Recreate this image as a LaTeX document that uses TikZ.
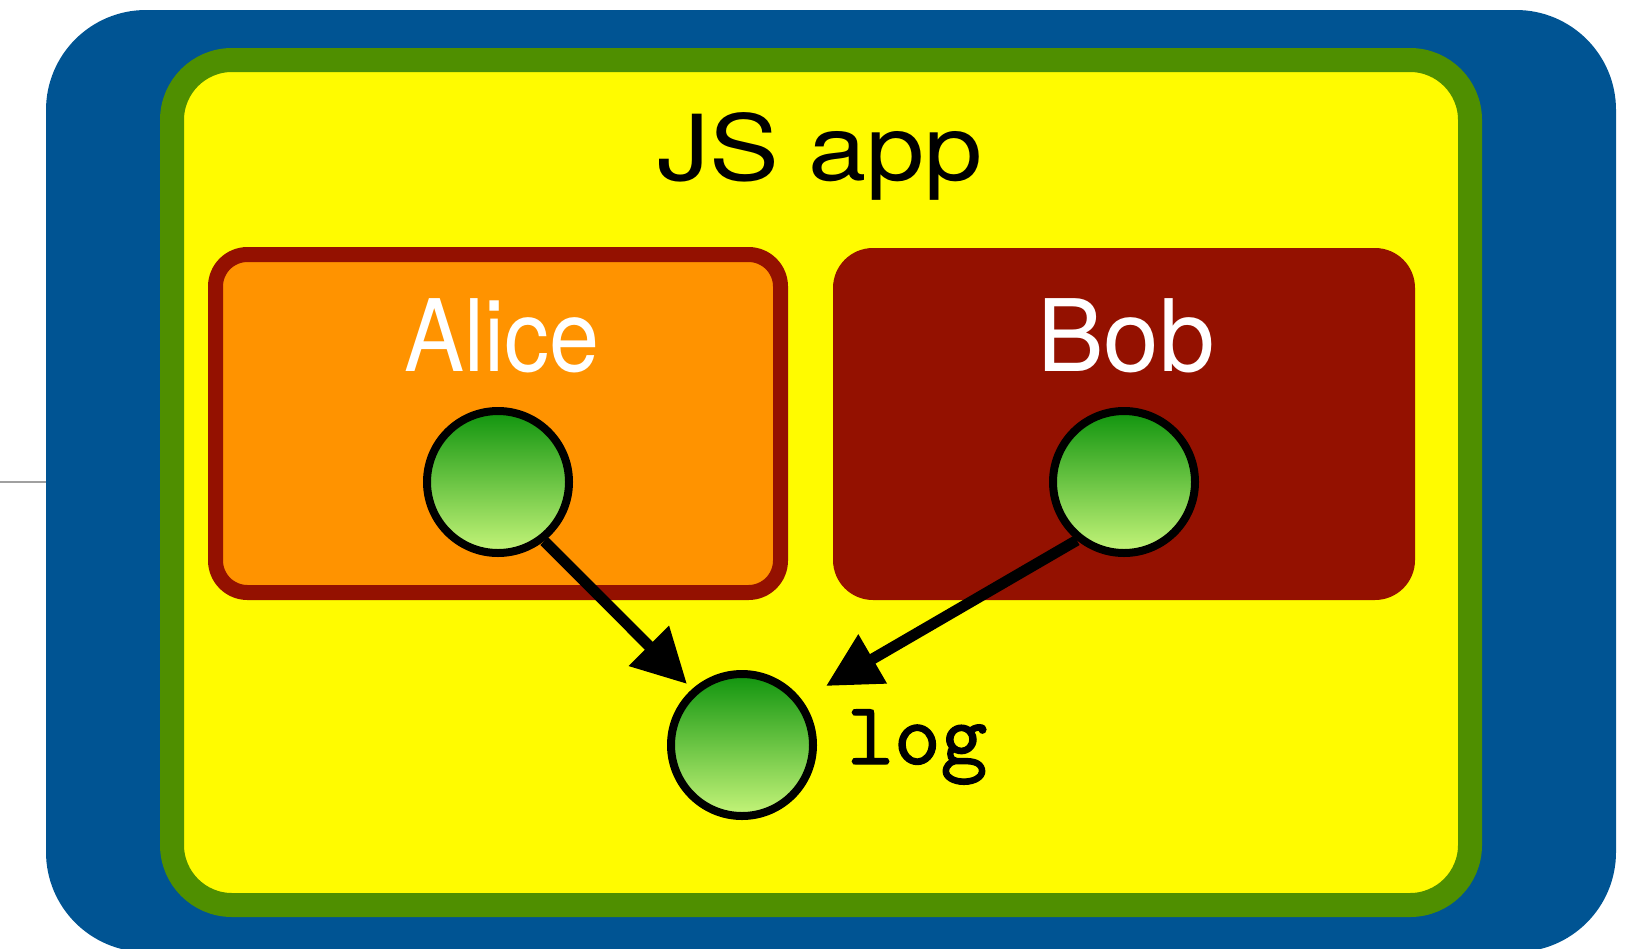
\documentclass[tikz,border=0pt]{standalone}
\usepackage{fontspec}
\setmainfont{TeX Gyre Heros}
\newfontfamily\logfont[FakeBold=1.5]{lmmono10-regular.otf}
\usetikzlibrary{arrows.meta}
\definecolor{ocean}{HTML}{005493}
\definecolor{fern}{HTML}{4F8F00}
\definecolor{lemon}{HTML}{FFFB00}
\definecolor{tangerine}{HTML}{FF9300}
\definecolor{cayenne}{HTML}{941100}
\definecolor{balltop}{RGB}{16,148,14}
\definecolor{ballbot}{RGB}{198,245,122}
\tikzset{
  ball/.style={circle, draw=black, line width=8pt, minimum size=142pt, inner sep=0pt,
    top color=balltop, bottom color=ballbot},
  callarrow/.style={line width=11pt, -{Triangle[length=54pt,width=54pt]}},
  bigtext/.style={inner sep=0pt, anchor=base, font=\fontsize{100}{120}\selectfont}
}
\begin{document}
\begin{tikzpicture}[x=1pt,y=-1pt]
\useasboundingbox (0,0) rectangle (1643,948);
\clip (0,0) rectangle (1643,948);
% grey line at left
\draw[line width=2.5pt, color={rgb,255:red,160;green,160;blue,160}] (0,482) -- (46,482);
% outer blue box
\fill[ocean, rounded corners=100pt] (46,10) rectangle (1616,952);
% green/yellow JS app box
\draw[fern, fill=lemon, line width=24pt, rounded corners=60pt] (172,60) rectangle (1470,905);
\node[inner sep=0pt, anchor=base, font=\fontsize{91}{110}\selectfont] (jsapp) at (820,180) {\scalebox{1.15}[1]{JS app}};
% Alice box
\draw[cayenne, fill=tangerine, line width=15pt, rounded corners=32pt] (215.5,254.5) rectangle (780.5,592.5);
\node[bigtext, text=white] (alicelabel) at (502,371) {\scalebox{0.9}[1]{Alice}};
% Bob box
\fill[cayenne, rounded corners=40pt] (833,248) rectangle (1415,600);
\node[bigtext, text=white] (boblabel) at (1126,371) {Bob};
% balls
\node[ball] (alice) at (498,482) {};
\node[ball] (bob) at (1124,482) {};
\node[ball] (log) at (742,745) {};
\node[inner sep=0pt, anchor=base west, font=\logfont\fontsize{89}{110}\selectfont] (loglabel) at (847,764) {log};
% arrows
\coordinate (atip) at (687,684);
\coordinate (btip) at (826,686);
\draw[callarrow] (alice.-52) -- (atip);
\draw[callarrow] (bob.231) -- (btip);
\end{tikzpicture}
\end{document}
